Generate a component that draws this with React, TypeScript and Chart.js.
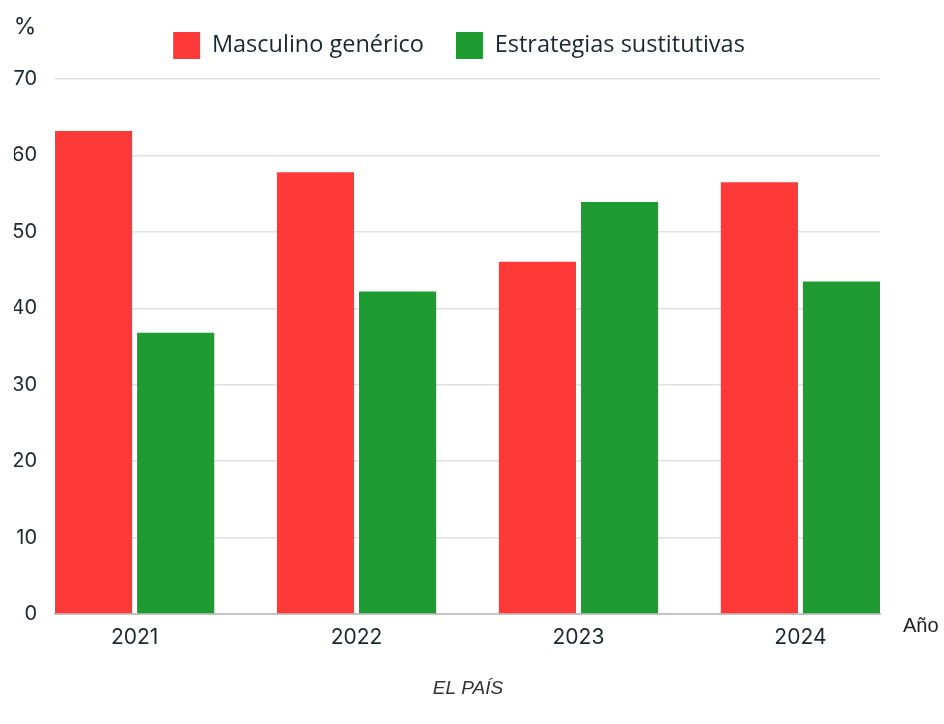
import React, { useEffect, useRef } from "react";
import { Chart, registerables } from "chart.js";

Chart.register(...registerables);

const years = ["2021", "2022", "2023", "2024"];
const masculinoGenerico = [63.2, 57.8, 46.1, 56.5];
const estrategiasSustitutivas = [36.8, 42.2, 53.9, 43.5];
const yTicks = [0, 10, 20, 30, 40, 50, 60, 70];

const RED = "#FF3838";
const GREEN = "#1F9C31";
const TEXT = "#1d2530";

// Fixed box sizes so the plot sits where the layout wants it
const LEGEND_HEIGHT = 79;
const LEGEND_SHIFT = 12;
const X_AXIS_HEIGHT = 110;
const Y_AXIS_WIDTH = 41;

// Legend sizing/offset plus extra labels: unit mark, x-axis name and source line
const annotations = {
  id: "annotations",
  beforeInit(chart: any) {
    const legend = chart.legend;
    if (legend) {
      const fit = legend.fit;
      legend.fit = function () {
        fit.call(this);
        this.height = LEGEND_HEIGHT;
      };
      const draw = legend.draw;
      legend.draw = function () {
        this.ctx.save();
        this.ctx.translate(LEGEND_SHIFT, 0);
        draw.call(this);
        this.ctx.restore();
      };
    }
  },
  afterDraw(chart: any) {
    const { ctx, chartArea } = chart;
    ctx.save();
    ctx.fillStyle = TEXT;
    ctx.font = "23px Inter";
    ctx.textAlign = "center";
    ctx.textBaseline = "middle";
    ctx.fillText("%", 25, 27);
    ctx.font = "20px 'Liberation Sans'";
    ctx.fillStyle = "#222";
    ctx.textAlign = "left";
    ctx.fillText("Año", chartArea.right + 23, 626);
    ctx.font = "italic 19px 'Liberation Sans'";
    ctx.fillStyle = "#333";
    ctx.textAlign = "center";
    ctx.fillText("EL PAÍS", 468, 689);
    ctx.restore();
  },
};

export default function App() {
  const ref = useRef<HTMLCanvasElement>(null);

  useEffect(() => {
    const canvas = ref.current;
    if (!canvas) return;
    const chart = new Chart(canvas, {
      type: "bar",
      data: {
        datasets: [
          {
            label: "Masculino genérico",
            data: years.map((_, i) => ({ x: i, y: masculinoGenerico[i] })),
            backgroundColor: RED,
          },
          {
            label: "Estrategias sustitutivas",
            data: years.map((_, i) => ({ x: i, y: estrategiasSustitutivas[i] })),
            backgroundColor: GREEN,
          },
        ],
      },
      options: {
        animation: false,
        responsive: false,
        maintainAspectRatio: false,
        categoryPercentage: 0.74,
        barPercentage: 0.94,
        layout: { padding: { left: 14, right: 64, top: 0, bottom: 0 } },
        plugins: {
          legend: {
            display: true,
            position: "top",
            labels: {
              boxWidth: 27,
              boxHeight: 27,
              padding: 32,
              color: TEXT,
              font: { family: "'Open Sans'", size: 23.5 },
            },
          },
          tooltip: { enabled: false },
        },
        scales: {
          x: {
            type: "linear",
            offset: false,
            min: -0.3586,
            max: 3.3586,
            grid: { display: false, drawTicks: false },
            border: { display: true, color: "#c4c4c4", width: 2 },
            afterBuildTicks: (scale: any) => {
              scale.ticks = years.map((_, i) => ({ value: i }));
            },
            afterFit: (scale: any) => {
              scale.height = X_AXIS_HEIGHT;
            },
            ticks: {
              padding: 11,
              color: TEXT,
              font: { family: "Inter", size: 21 },
              callback: (v: any) => years[Math.round(Number(v))] ?? "",
            },
          },
          y: {
            min: 0,
            max: 70,
            afterBuildTicks: (scale: any) => {
              scale.ticks = yTicks.map((v) => ({ value: v }));
            },
            afterFit: (scale: any) => {
              scale.width = Y_AXIS_WIDTH;
            },
            grid: { color: "#e2e2e2", lineWidth: 1.5, drawTicks: false },
            border: { display: false },
            ticks: {
              padding: 18,
              color: TEXT,
              font: { family: "Inter", size: 20 },
            },
          },
        },
      },
      plugins: [annotations],
    });
    return () => chart.destroy();
  }, []);

  return (
    <div style={{ position: "absolute", left: 0, top: 0, width: 944, height: 724, background: "#fff" }}>
      <canvas ref={ref} width={944} height={724} style={{ width: 944, height: 724 }} />
    </div>
  );
}
